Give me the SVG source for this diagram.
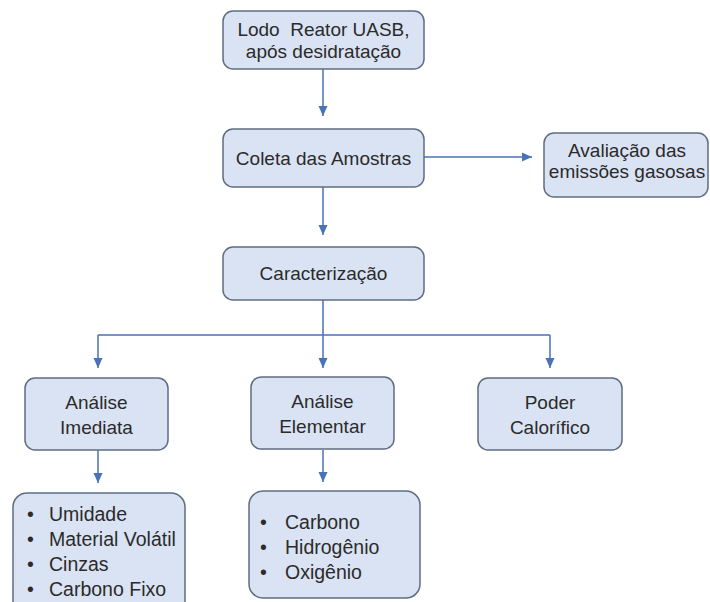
<svg xmlns="http://www.w3.org/2000/svg" width="710" height="602" viewBox="0 0 710 602">
<style>
.box{fill:#dae3f3;stroke:#5f6d80;stroke-width:1.5}
.t{font-family:"Liberation Sans",Arial,sans-serif;font-size:19px;fill:#2b2b2b;text-anchor:middle}
.b{font-family:"Liberation Sans",Arial,sans-serif;font-size:19.5px;fill:#2b2b2b}
.c{fill:none;stroke:#4a72b8;stroke-width:1.5}
</style>
<defs>
<marker id="ah" markerUnits="userSpaceOnUse" markerWidth="12" markerHeight="12" viewBox="0 0 12 12" refX="11" refY="6" orient="auto">
<path d="M1,1.5 L11,6 L1,10.5 Z" fill="#4a72b8"/>
</marker>
</defs>
<rect width="710" height="602" fill="#ffffff"/>
<g id="connectors">
<line class="c" x1="323" y1="69" x2="323" y2="116" marker-end="url(#ah)"/>
<line class="c" x1="424" y1="157" x2="532" y2="157" marker-end="url(#ah)"/>
<line class="c" x1="323" y1="187" x2="323" y2="235" marker-end="url(#ah)"/>
<path class="c" d="M323,300 V335 M98,335 H550"/>
<line class="c" x1="98" y1="335" x2="98" y2="368" marker-end="url(#ah)"/>
<line class="c" x1="323" y1="335" x2="323" y2="368" marker-end="url(#ah)"/>
<line class="c" x1="550" y1="335" x2="550" y2="368" marker-end="url(#ah)"/>
<line class="c" x1="98" y1="450" x2="98" y2="483" marker-end="url(#ah)"/>
<line class="c" x1="323" y1="450" x2="323" y2="482" marker-end="url(#ah)"/>
</g>
<g id="lodo">
<rect class="box" x="223" y="11" width="201" height="58" rx="10"/>
<text class="t" x="323.5" y="36">Lodo&#160; Reator UASB,</text>
<text class="t" x="323.5" y="58">após desidratação</text>
</g>
<g id="coleta">
<rect class="box" x="223" y="129" width="201" height="58" rx="10"/>
<text class="t" x="323.5" y="164.5">Coleta das Amostras</text>
</g>
<g id="avaliacao">
<rect class="box" x="544" y="133" width="164" height="64" rx="10"/>
<text class="t" x="627" y="157">Avaliação das</text>
<text class="t" x="627" y="178">emissões gasosas</text>
</g>
<g id="caracterizacao">
<rect class="box" x="223" y="247" width="201" height="53" rx="10"/>
<text class="t" x="323.5" y="280">Caracterização</text>
</g>
<g id="imediata">
<rect class="box" x="25" y="378" width="143" height="72" rx="10"/>
<text class="t" x="96.5" y="409">Análise</text>
<text class="t" x="96.5" y="434">Imediata</text>
</g>
<g id="elementar">
<rect class="box" x="251" y="377" width="143" height="72" rx="10"/>
<text class="t" x="322.5" y="408">Análise</text>
<text class="t" x="322.5" y="433">Elementar</text>
</g>
<g id="poder">
<rect class="box" x="478" y="378" width="144" height="72" rx="10"/>
<text class="t" x="550" y="409">Poder</text>
<text class="t" x="550" y="434">Calorífico</text>
</g>
<g id="lista-imediata">
<rect class="box" x="13" y="493" width="172" height="125" rx="14"/>
<text class="b" x="27" y="521">•</text><text class="b" x="49" y="521">Umidade</text>
<text class="b" x="27" y="546">•</text><text class="b" x="49" y="546">Material Volátil</text>
<text class="b" x="27" y="571">•</text><text class="b" x="49" y="571">Cinzas</text>
<text class="b" x="27" y="596">•</text><text class="b" x="49" y="596">Carbono Fixo</text>
</g>
<g id="lista-elementar">
<rect class="box" x="249" y="491" width="171" height="107" rx="14"/>
<text class="b" x="260" y="529">•</text><text class="b" x="285" y="529">Carbono</text>
<text class="b" x="260" y="554">•</text><text class="b" x="285" y="554">Hidrogênio</text>
<text class="b" x="260" y="579">•</text><text class="b" x="285" y="579">Oxigênio</text>
</g>
</svg>
